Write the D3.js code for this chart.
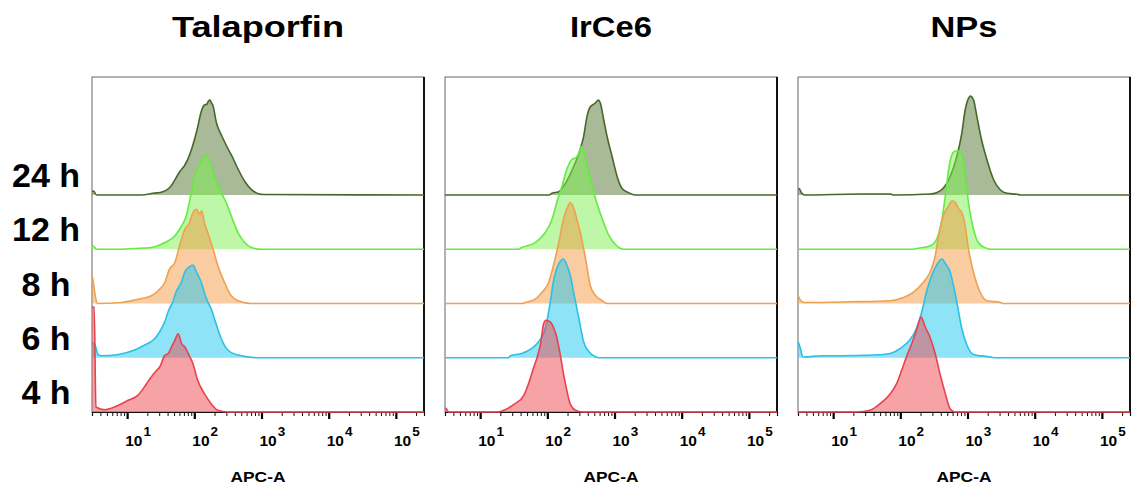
<!DOCTYPE html>
<html>
<head>
<meta charset="utf-8">
<script src="https://cdn.jsdelivr.net/npm/d3@7"></script>
<style>
  html,body{margin:0;padding:0;background:#fff;}
  text{font-family:"Liberation Sans",Arial,sans-serif;font-weight:bold;fill:#000;}
</style>
</head>
<body>
<svg id="chart" width="1133" height="486"></svg>
<script>
// ---------------- data ----------------
const panels = ["Talaporfin", "IrCe6", "NPs"];
const times = ["24 h", "12 h", "8 h", "6 h", "4 h"];
const majorExps = [1, 2, 3, 4, 5];
const strokeColors = ["#47682a", "#63ec3e", "#f0a050", "#2bc0e6", "#e8424c"];
const fillColors = ["#52762f", "#7cf050", "#f39a45", "#20c8f0", "#f04550"];

// [log10(APC-A), count (% of mode)]
const tal24 = [[0.48,3],[0.5,4],[0.545,0],[1.21,0],[1.41,2],[1.49,2.5],[1.64,8],[1.79,24],[1.86,30],[1.94,42],[2.04,65],[2.11,85],[2.15,90],[2.19,91],[2.21,94],[2.235,95],[2.255,92],[2.275,90],[2.33,72],[2.41,59],[2.48,49],[2.56,39],[2.65,26],[2.76,12.7],[2.875,4],[3.02,0.5],[5.42,0]];
const tal12 = [[0.48,3],[0.5,3],[0.545,0],[0.92,0],[1.11,0.7],[1.36,1.7],[1.56,6.7],[1.71,13.3],[1.81,23.3],[1.88,33.3],[1.945,53.3],[2.005,73.3],[2.08,85],[2.13,91.7],[2.18,92.7],[2.23,86.7],[2.30,73.3],[2.40,56.7],[2.475,46.7],[2.55,33.3],[2.65,16.7],[2.75,6.7],[2.85,1.7],[3.0,0],[5.42,0]];
const tal8 = [[0.48,27.7],[0.5,20],[0.52,10],[0.56,0],[0.92,1],[1.16,4.3],[1.36,7.7],[1.46,12.7],[1.56,21],[1.63,34.3],[1.71,41],[1.78,57.7],[1.86,74.3],[1.93,81],[1.98,91],[2.03,94.3],[2.08,89.3],[2.11,92.7],[2.15,81],[2.20,71],[2.28,54.3],[2.35,37.7],[2.45,21],[2.55,7.7],[2.65,2.7],[2.85,0],[5.42,0]];
const tal6 = [[0.48,15],[0.52,13],[0.57,3],[0.62,2],[0.87,3.3],[1.11,7.7],[1.26,12.7],[1.39,17.7],[1.485,26],[1.56,36],[1.61,46],[1.68,56],[1.73,66],[1.81,76],[1.86,86],[1.93,91],[1.98,92.7],[2.03,86],[2.10,76],[2.18,59],[2.25,49],[2.33,32.7],[2.40,19.3],[2.50,7.7],[2.65,2.7],[2.95,0],[5.42,0]];
const tal4 = [[0.48,105],[0.51,105],[0.535,5],[0.67,2.3],[0.87,6.7],[1.015,11.7],[1.16,16.7],[1.29,28.3],[1.34,33.3],[1.44,41.7],[1.485,45],[1.56,56.7],[1.61,58.3],[1.66,65],[1.71,71.7],[1.76,78.3],[1.81,68.3],[1.86,65],[1.91,58.3],[1.98,48.3],[2.05,31.7],[2.15,18.3],[2.25,8.3],[2.35,1.7],[2.5,0],[5.42,0]];

const irc24 = [[0.48,0],[2.02,0],[2.07,1.7],[2.17,3.3],[2.27,11.7],[2.37,25],[2.47,41.7],[2.54,58.3],[2.59,78.3],[2.64,88.3],[2.71,91.7],[2.76,95],[2.79,91.7],[2.84,75],[2.89,58.3],[2.965,38.3],[3.04,18.3],[3.11,6.7],[3.21,2.3],[3.31,0],[5.42,0]];
const irc12 = [[0.48,0],[1.57,0],[1.62,1.7],[1.82,6.7],[1.97,16.7],[2.07,30],[2.14,46.7],[2.22,63.3],[2.29,80],[2.37,90],[2.43,91.7],[2.47,96.7],[2.51,102.7],[2.57,90],[2.64,70],[2.72,50],[2.82,30],[2.92,13.3],[3.01,5],[3.14,0],[5.42,0]];
const irc8 = [[0.48,0],[1.62,0],[1.67,1],[1.82,4.3],[1.92,11],[2.02,21],[2.09,37.7],[2.17,61],[2.24,84.3],[2.31,97.7],[2.34,101],[2.39,96],[2.44,84.3],[2.49,71],[2.57,44.3],[2.64,17.7],[2.72,7.7],[2.82,2.7],[2.89,0],[5.42,0]];
const irc6 = [[0.48,0],[1.42,0],[1.45,2],[1.62,4.3],[1.77,9.3],[1.87,16],[1.97,29.3],[2.045,56],[2.09,76],[2.14,89.3],[2.19,96],[2.24,98.7],[2.29,92.7],[2.34,82.7],[2.39,66],[2.47,39.3],[2.54,16],[2.62,6],[2.72,1],[2.77,0],[5.42,0]];
const irc4 = [[0.48,4],[0.5,3],[0.53,0],[1.27,0],[1.37,2.3],[1.52,8.3],[1.65,16.7],[1.72,28.3],[1.80,45],[1.85,55],[1.90,68.3],[1.945,88.3],[1.98,91.7],[2.045,90],[2.09,85],[2.14,75],[2.19,58.3],[2.24,38.3],[2.29,21.7],[2.34,8.3],[2.42,1.7],[2.52,0],[5.42,0]];

const nps24 = [[0.48,6.7],[0.5,6],[0.53,2],[0.58,0],[1.40,1],[1.85,1],[1.90,0],[2.44,1],[2.54,2.3],[2.64,6.7],[2.74,18.3],[2.84,38.3],[2.915,61.7],[2.965,85],[3.015,96.7],[3.04,99],[3.09,95],[3.14,78.3],[3.21,55],[3.29,35],[3.39,15],[3.49,5],[3.59,1.7],[3.74,0.7],[3.79,0],[5.42,0]];
const nps12 = [[0.48,0],[2.19,0],[2.24,0.7],[2.44,3.3],[2.54,10],[2.62,30],[2.67,53.3],[2.72,80],[2.77,95],[2.82,98.3],[2.87,98.3],[2.92,93.3],[2.965,73.3],[3.015,46.7],[3.09,20],[3.16,6.7],[3.29,0.7],[3.34,0],[5.42,0]];
const nps8 = [[0.48,7.7],[0.53,2],[0.58,1],[1.25,1.7],[1.85,2.7],[2.045,6],[2.19,11],[2.34,21],[2.44,31],[2.52,47.7],[2.57,67.7],[2.64,87.7],[2.72,97.7],[2.77,102.7],[2.82,101],[2.87,94.3],[2.915,91],[2.965,77.7],[3.015,54.3],[3.09,31],[3.19,11],[3.29,2.7],[3.49,1],[3.54,0],[5.42,0]];
const nps6 = [[0.48,16],[0.51,10],[0.55,0.7],[0.85,2],[1.10,2],[1.60,2.7],[1.85,4.3],[2.0,9.3],[2.14,17.7],[2.24,29.3],[2.32,46],[2.39,66],[2.47,82.7],[2.54,92.7],[2.62,98.7],[2.67,94.3],[2.74,86],[2.79,72.7],[2.84,56],[2.915,29.3],[2.99,12.7],[3.09,3.3],[3.34,0.7],[3.39,0],[5.42,0]];
const nps4 = [[0.48,0],[1.35,0],[1.55,1.7],[1.70,8.3],[1.85,18.3],[1.945,28.3],[2.02,41.7],[2.09,55],[2.17,68.3],[2.24,81.7],[2.31,95],[2.37,85],[2.44,75],[2.52,58.3],[2.59,38.3],[2.67,18.3],[2.74,3.3],[2.81,0],[5.42,0]];

const seriesByPanel = [
  [tal24, tal12, tal8, tal6, tal4],
  [irc24, irc12, irc8, irc6, irc4],
  [nps24, nps12, nps8, nps6, nps4]
];

// ---------------- layout ----------------
const svg = d3.select("#chart");
svg.append("rect").attr("width", 1133).attr("height", 486).attr("fill", "#fff");

const panelW = 332, panelGap = 21, left0 = 92;
const plotTop = 77, plotBottom = 412;

const x = d3.scaleLog().domain([3, 262144]).range([0, panelW]);
const yRow = d3.scalePoint().domain(times).range([195, plotBottom]);
const h = d3.scaleLinear().domain([0, 100]).range([0, 100]);

// row labels
svg.append("g").selectAll("text").data(times).join("text")
  .attr("x", 46).attr("y", d => yRow(d) - 8)
  .attr("text-anchor", "middle")
  .attr("font-size", 34)
  .text(d => d);

const minorTicks = [];
for (let e = 0; e <= 5; e++) for (let m = 2; m <= 9; m++) {
  const v = m * Math.pow(10, e);
  if (v >= 3 && v <= 262144) minorTicks.push(v);
}
const majorTicks = majorExps.map(e => Math.pow(10, e));

panels.forEach((name, pi) => {
  const g = svg.append("g").attr("transform", `translate(${left0 + pi * (panelW + panelGap)},0)`);

  // title
  const tl = {"Talaporfin": 172, "IrCe6": 82, "NPs": 67}[name];
  g.append("text").attr("x", panelW / 2).attr("y", 37)
    .attr("text-anchor", "middle").attr("font-size", 29)
    .attr("textLength", tl).attr("lengthAdjust", "spacingAndGlyphs")
    .text(name);

  // frame
  g.append("rect").attr("x", 0).attr("y", plotTop)
    .attr("width", panelW).attr("height", plotBottom - plotTop)
    .attr("fill", "#fff").attr("stroke", "#666").attr("stroke-width", 1);
  g.append("line").attr("x1", panelW).attr("x2", panelW)
    .attr("y1", plotTop).attr("y2", plotBottom)
    .attr("stroke", "#111").attr("stroke-width", 2);

  // axis
  const axG = g.append("g").attr("transform", `translate(0,${plotBottom})`);
  axG.call(d3.axisBottom(x).tickValues(minorTicks).tickSize(4).tickFormat(""))
    .call(a => a.selectAll(".tick line").attr("stroke", "#111").attr("stroke-width", 1))
    .call(a => a.select(".domain").attr("stroke", "#111").attr("stroke-width", 1.2));
  const axM = g.append("g").attr("transform", `translate(0,${plotBottom})`);
  axM.call(d3.axisBottom(x).tickValues(majorTicks).tickSize(7).tickFormat(""))
    .call(a => a.selectAll(".tick line").attr("stroke", "#000").attr("stroke-width", 2.2))
    .call(a => a.select(".domain").remove());

  // tick labels 10^n
  const lab = g.append("g").selectAll("text").data(majorExps).join("text")
    .attr("x", d => x(Math.pow(10, d)) - 2).attr("y", 446)
    .attr("font-size", 15.5);
  lab.append("tspan").text("10");
  lab.append("tspan").attr("font-size", 13.5).attr("dy", -10).attr("dx", 1).text(d => d);

  // x title
  g.append("text").attr("x", panelW / 2).attr("y", 482)
    .attr("text-anchor", "middle").attr("font-size", 14.5)
    .attr("textLength", 55).attr("lengthAdjust", "spacingAndGlyphs")
    .text("APC-A");

  // clip
  const cid = "clip" + pi;
  g.append("clipPath").attr("id", cid).append("rect")
    .attr("x", 0).attr("y", plotTop).attr("width", panelW).attr("height", plotBottom - plotTop + 2);

  const cg = g.append("g").attr("clip-path", `url(#${cid})`);
  seriesByPanel[pi].forEach((ser, ti) => {
    const base = yRow(times[ti]);
    const area = d3.area()
      .x(d => x(Math.pow(10, d[0])))
      .y0(base)
      .y1(d => base - h(d[1]))
      .curve(d3.curveMonotoneX);
    const line = d3.line()
      .x(d => x(Math.pow(10, d[0])))
      .y(d => base - h(d[1]))
      .curve(d3.curveMonotoneX);
    cg.append("path").datum(ser).attr("d", area)
      .attr("fill", fillColors[ti]).attr("fill-opacity", 0.5);
    cg.append("path").datum(ser).attr("d", line)
      .attr("fill", "none").attr("stroke", strokeColors[ti])
      .attr("stroke-width", 1.6).attr("stroke-linejoin", "round");
  });
});
</script>
</body>
</html>
